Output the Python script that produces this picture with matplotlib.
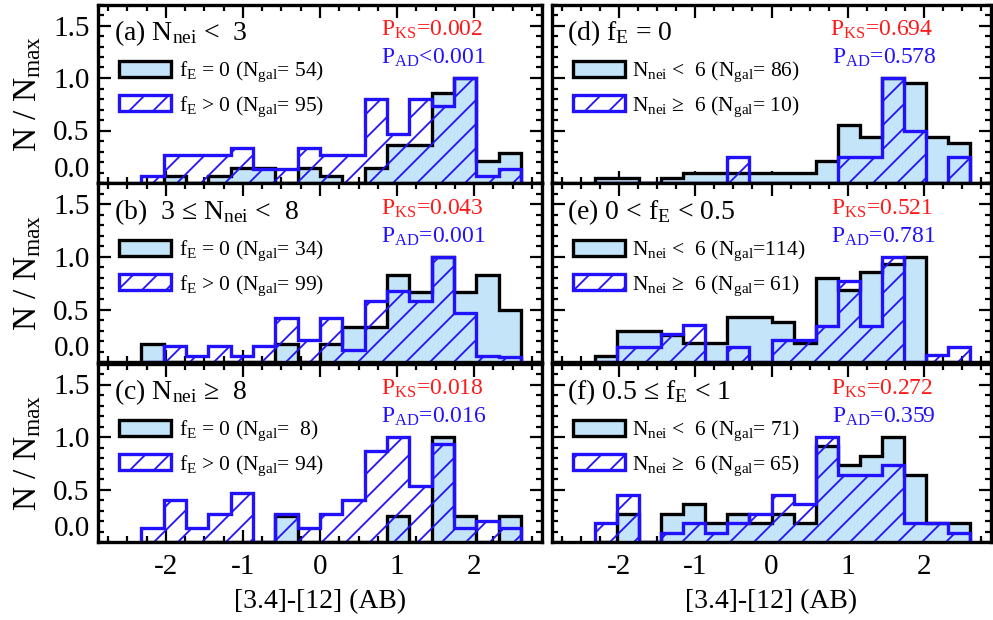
import numpy as np
import matplotlib
matplotlib.use("Agg")
import matplotlib.pyplot as plt
from matplotlib.patches import Patch
from matplotlib.ticker import MultipleLocator

# drawn at 72 dpi so that the hatch spacing comes out near 12 px; S converts old pt sizes
DPI = 72
S = 100 / DPI

plt.rcParams['font.family'] = ['Liberation Serif', 'DejaVu Serif']
plt.rcParams['mathtext.fontset'] = 'custom'
plt.rcParams['mathtext.rm'] = 'Liberation Serif'
plt.rcParams['mathtext.it'] = 'Liberation Serif:italic'
plt.rcParams['axes.unicode_minus'] = False
plt.rcParams['hatch.linewidth'] = 1.3 * S

# bin edges in [3.4]-[12] colour
bin_edges = [-2.32, -2.03, -1.74, -1.45, -1.16, -0.87, -0.58, -0.29, 0.00,
             0.29, 0.58, 0.87, 1.16, 1.45, 1.74, 2.03, 2.32, 2.61]

# N/Nmax per bin
a_black = [0, 0.07, 0, 0.07, 0.14, 0.14, 0, 0.14, 0.07, 0, 0.14, 0.36, 0.36, 0.86, 1.0, 0.21, 0.29]
a_blue = [0.07, 0.27, 0.27, 0.27, 0.33, 0.13, 0.13, 0.33, 0.27, 0.27, 0.80, 0.47, 0.80, 0.73, 1.0, 0.07, 0.13]
b_black = [0.17, 0, 0, 0, 0, 0, 0.17, 0, 0.17, 0.33, 0.33, 0.83, 0.67, 1.0, 0.67, 0.83, 0.50]
b_blue = [0, 0.15, 0.06, 0.15, 0.06, 0.15, 0.42, 0.21, 0.42, 0.11, 0.58, 0.68, 0.58, 1.0, 0.47, 0.06, 0.05]
c_black = [0, 0, 0, 0, 0, 0, 0.25, 0, 0, 0, 0, 0.25, 0, 1.0, 0.25, 0, 0.25]
c_blue = [0.13, 0.40, 0.13, 0.27, 0.47, 0, 0.27, 0.13, 0.27, 0.40, 0.87, 1.0, 0.53, 0.93, 0.13, 0.20, 0.13]
d_black = [0.05, 0.05, 0, 0.05, 0.10, 0.10, 0.10, 0.10, 0.10, 0.10, 0.21, 0.55, 0.44, 1.0, 0.95, 0.44, 0.38]
d_blue = [0, 0, 0, 0, 0, 0, 0.25, 0, 0, 0, 0, 0.25, 0.25, 1.0, 0.50, 0, 0.25]
e_black = [0.06, 0.30, 0.30, 0.26, 0.18, 0.18, 0.43, 0.43, 0.38, 0.18, 0.80, 0.69, 0.86, 0.93, 1.0, 0, 0]
e_blue = [0, 0.14, 0.14, 0.27, 0.35, 0, 0.14, 0, 0.21, 0.21, 0.34, 0.77, 0.34, 1.0, 0, 0.07, 0.14]
f_black = [0, 0.27, 0, 0.27, 0.36, 0.18, 0.27, 0.18, 0.27, 0.18, 0.91, 0.73, 0.82, 1.0, 0.64, 0.18, 0.18]
f_blue = [0.18, 0.45, 0, 0.09, 0.18, 0.09, 0.18, 0.27, 0.45, 0.36, 1.0, 0.64, 0.64, 0.73, 0.18, 0.18, 0.09]

titles = [r'(a) N$_{\rm nei}$ <  3', r'(b)  3 ≤ N$_{\rm nei}$ <  8', r'(c) N$_{\rm nei}$ ≥  8',
          r'(d) f$_{\rm E}$ = 0', r'(e) 0 < f$_{\rm E}$ < 0.5', r'(f) 0.5 ≤ f$_{\rm E}$ < 1']
left_leg = [r'f$_{\rm E}$ = 0 (N$_{\rm gal}$= %s)', r'f$_{\rm E}$ > 0 (N$_{\rm gal}$= %s)']
right_leg = [r'N$_{\rm nei}$ <  6 (N$_{\rm gal}$=%s)', r'N$_{\rm nei}$ ≥  6 (N$_{\rm gal}$=%s)']
ngal = [('54', '95'), ('34', '99'), (' 8', '94'), (' 86', ' 10'), ('114', ' 61'), (' 71', ' 65')]
p_ks = ['=0.002', '=0.043', '=0.018', '=0.694', '=0.521', '=0.272']
p_ad = ['<0.001', '=0.001', '=0.016', '=0.578', '=0.781', '=0.359']

blacks = [a_black, b_black, c_black, d_black, e_black, f_black]
blues = [a_blue, b_blue, c_blue, d_blue, e_blue, f_blue]

FILL = '#c4e5f9'
BLUE = '#2211ff'
RED = '#ff1a1a'
LW = 2.4 * S

fig = plt.figure(figsize=(993 / DPI, 620 / DPI), dpi=DPI)
lefts = [98 / 993, 552 / 993]
widths = [444 / 993, 439 / 993]
bottoms = [1 - 183 / 620, 1 - 362 / 620, 1 - 542 / 620]
height = 178.5 / 620

for k in range(6):
    col, row = k // 3, k % 3
    ax = fig.add_axes([lefts[col], bottoms[row], widths[col], height])

    ax.stairs(blacks[k], bin_edges, baseline=0, fill=True, facecolor=FILL,
              edgecolor='black', linewidth=LW, zorder=2)
    ax.stairs(blues[k], bin_edges, baseline=0, fill=True, facecolor='none',
              edgecolor=BLUE, hatch='/', linewidth=LW, zorder=3)

    ax.set_xlim(-2.88, 2.88)
    ax.set_ylim(0, 1.7)
    ax.xaxis.set_major_locator(MultipleLocator(1))
    ax.xaxis.set_minor_locator(MultipleLocator(0.25))
    ax.set_yticks([0, 0.5, 1.0, 1.5])
    ax.yaxis.set_minor_locator(MultipleLocator(0.1))
    ax.tick_params(which='both', direction='in', top=True, right=True,
                   width=1.6 * S, labelsize=21 * S)
    ax.tick_params(which='major', length=9 * S)
    ax.tick_params(which='minor', length=4.5 * S)
    ax.tick_params(axis='y', pad=6 * S)
    ax.tick_params(axis='x', pad=9 * S)
    for s in ax.spines.values():
        s.set_linewidth(LW)
        s.set_zorder(5)

    if col == 0:
        ax.set_yticklabels(['0.0', '0.5', '1.0', '1.5'])
        ax.yaxis.get_major_ticks()[0].label1.set_verticalalignment('bottom')
        ax.set_ylabel(r'N / N$_{\rm max}$', fontsize=24 * S, labelpad=7 * S)
        labels = left_leg
    else:
        ax.set_yticklabels([])
        labels = right_leg
    if row == 2:
        ax.set_xlabel('[3.4]-[12] (AB)', fontsize=20 * S, labelpad=6 * S)
    else:
        ax.set_xticklabels([])

    ax.text(0.035, 0.84, titles[k], transform=ax.transAxes, fontsize=20 * S,
            va='center', ha='left')
    ax.text(0.868, 0.86, r'P$_{\rm KS}$' + p_ks[k], transform=ax.transAxes,
            fontsize=17 * S, color=RED, va='center', ha='right')
    ax.text(0.874, 0.70, r'P$_{\rm AD}$' + p_ad[k], transform=ax.transAxes,
            fontsize=17 * S, color=BLUE, va='center', ha='right')

    handles = [Patch(facecolor=FILL, edgecolor='black', linewidth=LW),
               Patch(facecolor='white', edgecolor=BLUE, hatch='/', linewidth=LW)]
    ax.legend(handles, [labels[0] % ngal[k][0], labels[1] % ngal[k][1]],
              loc='upper left', bbox_to_anchor=(0.048, 0.69), frameon=False,
              fontsize=15.5 * S, handlelength=2.4, handleheight=0.8, handletextpad=0.35,
              labelspacing=0.45, borderpad=0, borderaxespad=0)

fig.savefig('out.png', dpi=DPI)
